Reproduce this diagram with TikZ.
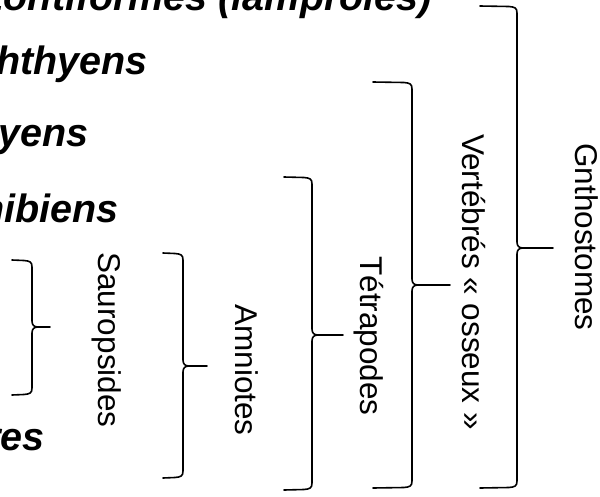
\documentclass[tikz,border=0pt]{standalone}
\usepackage{fontspec}
\setmainfont{Liberation Sans}
\tikzset{
  taxon/.style={anchor=base east, inner sep=0pt, font={\fontsize{39.5}{42}\selectfont\bfseries\itshape}},
  clade/.style={rotate=-90, inner sep=0pt, font={\fontsize{31.5}{36}\selectfont}},
  brace/.style={line width=1.6pt, line join=round, line cap=round}
}
\begin{document}
\begin{tikzpicture}[x=1pt, y=-1pt]
\useasboundingbox (0,0) rectangle (600,496);
\clip (0,0) rectangle (600,496);

% taxons (coupes a gauche)
\node[taxon] (petro) at (432,10) {Pétromyzontiformes (lamproies)};
\node[taxon] (chondri) at (148,74) {Chondrichthyens};
\node[taxon] (osteich) at (89,146) {Ostéichthyens};
\node[taxon] (amphi) at (119,222) {Amphibiens};
\node[taxon] (mammi) at (45,450) {Mammifères};

% groupes
\node[clade] (sauro) at (107,340) {Sauropsides};
\node[clade] (amnio) at (247,370) {Amniotes};
\node[clade] (tetra) at (369,336) {Tétrapodes};
\node[clade] (verte) at (474,282) {Vertébrés~«~osseux~»};
\node[clade] (gnatho) at (587,237) {Gnthostomes};

% accolades : gauche/vertical/pointe/haut/milieu/bas
\foreach \l/\v/\t/\a/\m/\b in {12/32/50/260/327/395, 163/183/207/253/366/478,
    284/312/343/177/335/490, 373/412/450/82/285/488, 480/517/553/6/248/488}
{
    \draw[brace] (\l,\a) -- (\v-8,\a+0.5) .. controls (\v-2,\a+1) and (\v,\a+2) .. (\v,\a+7)
        -- (\v,\m-6) .. controls (\v,\m-2) and (\v+2,\m) .. (\v+6,\m)
        .. controls (\v+2,\m) and (\v,\m+2) .. (\v,\m+6)
        -- (\v,\b-7) .. controls (\v,\b-2) and (\v-2,\b-1) .. (\v-8,\b-0.5) -- (\l,\b);
    \draw[brace] (\v+6,\m) -- (\t,\m);
}
\end{tikzpicture}
\end{document}
